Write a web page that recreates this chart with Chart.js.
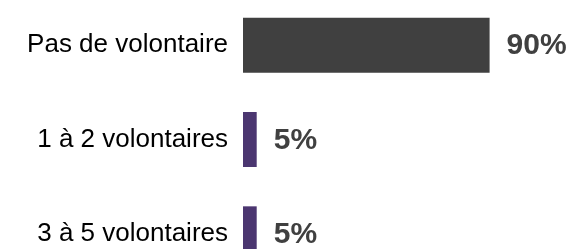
<!DOCTYPE html>
<html lang="fr">
<head>
  <meta charset="UTF-8">
  <title>Volontaires</title>
  <script src="https://cdn.jsdelivr.net/npm/chart.js"></script>
  <style>
    html, body { margin: 0; padding: 0; background: #fff; overflow: hidden; }
    #wrap { position: absolute; left: 0; top: -2px; width: 574px; height: 283px; }
  </style>
</head>
<body>
  <div id="wrap"><canvas id="volChart"></canvas></div>
  <script>
    const categories = ['Pas de volontaire', '1 à 2 volontaires', '3 à 5 volontaires'];
    const values = [90, 5, 5];
    const barColors = ['#404040', '#4b3670', '#4b3670'];

    // étiquettes de valeur à droite des barres
    const valueLabels = {
      id: 'valueLabels',
      afterDatasetsDraw(chart) {
        const ctx = chart.ctx;
        const meta = chart.getDatasetMeta(0);
        ctx.save();
        ctx.font = 'bold 30px "Liberation Sans", Arial, sans-serif';
        ctx.fillStyle = '#404040';
        ctx.textAlign = 'left';
        ctx.textBaseline = 'middle';
        meta.data.forEach((bar, i) => {
          ctx.fillText(values[i] + '%', bar.x + 17, bar.y + 1);
        });
        ctx.restore();
      }
    };

    const ctx = document.getElementById('volChart').getContext('2d');
    new Chart(ctx, {
      type: 'bar',
      data: {
        labels: categories,
        datasets: [{
          data: values,
          backgroundColor: barColors,
          borderWidth: 0,
          categoryPercentage: 1,
          barPercentage: 0.583
        }]
      },
      options: {
        indexAxis: 'y',
        responsive: true,
        maintainAspectRatio: false,
        animation: false,
        layout: { padding: { left: 0, right: 57, top: 0, bottom: 0 } },
        plugins: {
          legend: { display: false },
          tooltip: { enabled: false }
        },
        scales: {
          x: {
            display: false,
            min: 0,
            max: 100
          },
          y: {
            grid: { display: false, drawTicks: false },
            border: { display: false },
            ticks: {
              color: '#000',
              padding: 15,
              font: { family: '"Liberation Sans", Arial, sans-serif', size: 26 }
            },
            afterFit(scale) {
              scale.width = 243;
              scale.paddingTop = 0;
              scale.paddingBottom = 0;
            }
          }
        }
      },
      plugins: [valueLabels]
    });
  </script>
</body>
</html>
